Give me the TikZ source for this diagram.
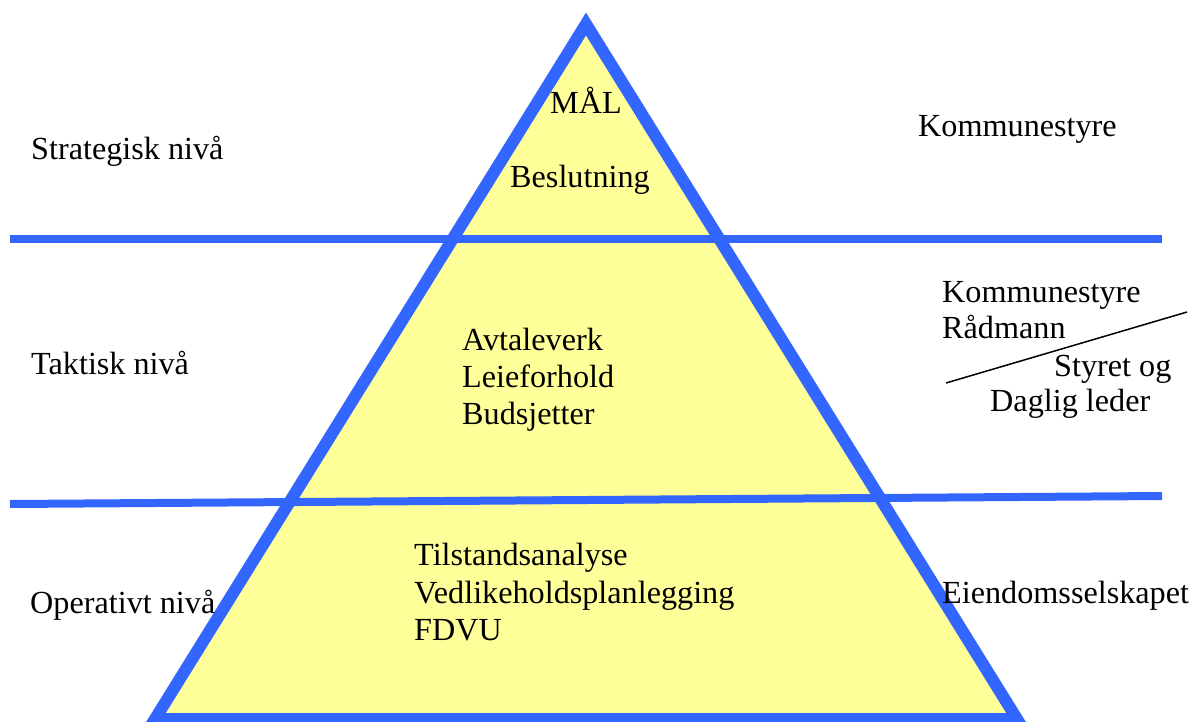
\documentclass[tikz,border=0pt]{standalone}
\usepackage{fontspec}
\setmainfont{Liberation Serif}
\definecolor{pyrblue}{RGB}{51,102,255}
\definecolor{pyryellow}{RGB}{255,255,153}
\begin{document}
\begin{tikzpicture}[x=1pt,y=-1pt,
  lbl/.style={anchor=base west,inner sep=0pt,font=\fontsize{32.2}{37.5}\selectfont},
  tri/.style={draw=pyrblue,fill=pyryellow,line width=12pt,line join=miter},
  level/.style={draw=pyrblue,line width=8pt},
  divider/.style={draw=black,line width=1.5pt}]
\clip (0,0) rectangle (1191,721);
\fill[white] (0,0) rectangle (1191,721);
% pyramid
\coordinate (apex) at (586,24);
\coordinate (bl) at (155,719);
\coordinate (br) at (1017,719);
\path[tri] (apex) -- (br) -- (bl) -- cycle;
% level lines
\coordinate (l1a) at (10,239);
\coordinate (l1b) at (1162,239);
\coordinate (l2a) at (10,504);
\coordinate (l2b) at (1162,496);
\draw[level] (l1a) -- (l1b);
\draw[level] (l2a) -- (l2b);
% divider line on right
\coordinate (d1) at (946,383);
\coordinate (d2) at (1187,312);
\draw[divider] (d1) -- (d2);
% left labels
\node[lbl] (strat) at (31,159) {Strategisk nivå};
\node[lbl] (takt) at (31,374) {Taktisk nivå};
\node[lbl] (oper) at (30,613) {Operativt nivå};
% pyramid texts
\node[lbl] (mal) at (550,113) {MÅL};
\node[lbl] (besl) at (510,187) {Beslutning};
\node[lbl] (avt) at (462,350) {Avtaleverk};
\node[lbl] (leie) at (462,387) {Leieforhold};
\node[lbl] (buds) at (462,424) {Budsjetter};
\node[lbl] (tils) at (414,565) {Tilstandsanalyse};
\node[lbl] (vedl) at (414,603) {Vedlikeholdsplanlegging};
\node[lbl] (fdvu) at (414,640) {FDVU};
% right labels
\node[lbl] (komm1) at (918,136) {Kommunestyre};
\node[lbl] (komm2) at (942,302) {Kommunestyre};
\node[lbl] (radm) at (942,338) {Rådmann};
\node[lbl] (styr) at (1054,376) {Styret og};
\node[lbl] (dagl) at (990,411) {Daglig leder};
\node[lbl] (eien) at (942,603) {Eiendomsselskapet};
\end{tikzpicture}
\end{document}
